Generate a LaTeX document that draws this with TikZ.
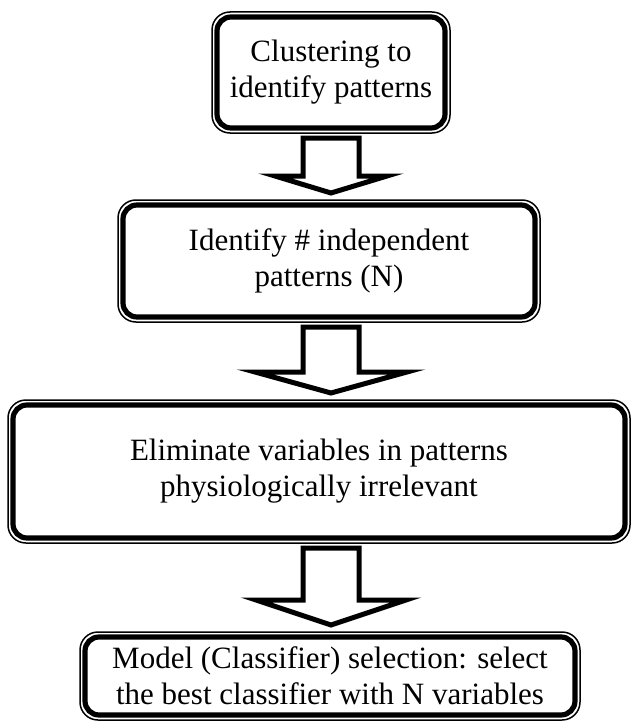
\documentclass[tikz,border=0pt]{standalone}
\usepackage{fontspec}
\setmainfont{Liberation Serif}
\usetikzlibrary{calc}
\tikzset{
  stepbox/.style={draw,line width=2.6pt,rounded corners=7pt,align=center,
                  inner sep=0pt,outer sep=0pt,font=\fontsize{15.5}{18}\selectfont},
  outline/.style={line width=0.75pt,rounded corners=9pt},
  blockarr/.style={draw,line width=2.5pt,fill=white,line join=miter},
}

\begin{document}
\begin{tikzpicture}[x=0.5pt,y=-0.5pt]
  \useasboundingbox (0,0) rectangle (631,722);

  %% ── Steps ────────────────────────────────────────────────────────────────
  \node[stepbox,minimum width=114pt,minimum height=55.5pt] (clu) at (331,72.5)
    {Clustering to\\identify patterns};
  \node[stepbox,minimum width=206pt,minimum height=56pt] (ide) at (329,261)
    {Identify \# independent\\patterns (N)};
  \node[stepbox,minimum width=306pt,minimum height=66.5pt] (eli) at (319,471.5)
    {Eliminate variables in patterns\\physiologically irrelevant};
  \node[stepbox,minimum width=245pt,minimum height=39pt] (mod) at (330,676)
    {Model (Classifier) selection: select\\the best classifier with N variables};

  %% ── Thin outer frames ────────────────────────────────────────────────────
  \foreach \n in {clu,ide,eli,mod}
    \draw[outline] ($(\n.north west)+(-5,-5)$) rectangle ($(\n.south east)+(5,5)$);

  %% ── Block arrows ─────────────────────────────────────────────────────────
  \foreach \a/\b/\w/\h in {clu/ide/56/17,ide/eli/76/21,eli/mod/75/25}
    \draw[blockarr] ($(\a.south -| clu.south)+(-28,10)$)
      -- ($(\b.north -| clu.south)+(-28,-12-\h)$)
      -- ($(\b.north -| clu.south)+(-\w,-12-\h)$)
      -- ($(\b.north -| clu.south)+(0,-12)$)
      -- ($(\b.north -| clu.south)+(\w,-12-\h)$)
      -- ($(\b.north -| clu.south)+(28,-12-\h)$)
      -- ($(\a.south -| clu.south)+(28,10)$) -- cycle;
\end{tikzpicture}
\end{document}
